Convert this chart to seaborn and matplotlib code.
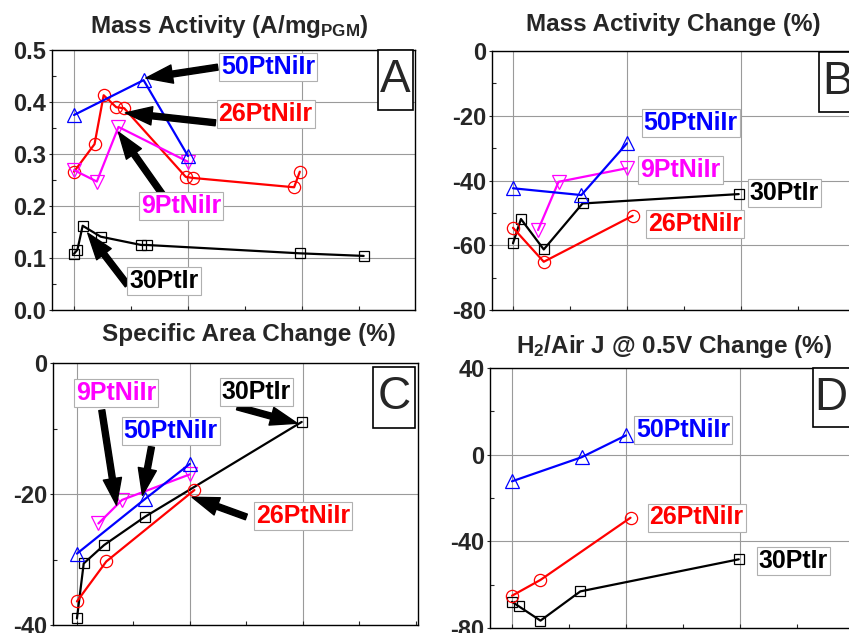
import matplotlib
matplotlib.use('Agg')
import matplotlib.pyplot as plt
from matplotlib.patches import Rectangle
from matplotlib.ticker import MultipleLocator
import seaborn as sns

sns.set_style('ticks')
plt.rcParams['font.family'] = ['Liberation Sans', 'DejaVu Sans']
plt.rcParams['mathtext.default'] = 'regular'

# panel A: mass activity (A/mg PGM)
ma_50_x = [0.0, 0.61, 1.0]
ma_50_y = [0.375, 0.442, 0.296]
ma_26_x = [0.0, 0.18, 0.26, 0.37, 0.44, 0.98, 1.04, 1.93, 1.98]
ma_26_y = [0.266, 0.319, 0.413, 0.390, 0.388, 0.256, 0.254, 0.236, 0.266]
ma_9_x = [0.0, 0.2, 0.39, 1.0]
ma_9_y = [0.269, 0.247, 0.352, 0.285]
ma_30_x = [0.0, 0.03, 0.076, 0.234, 0.59, 0.64, 1.98, 2.54]
ma_30_y = [0.108, 0.116, 0.162, 0.141, 0.125, 0.125, 0.109, 0.104]

# panel B: mass activity change (%)
mc_50_x = [0.0, 0.60, 1.0]
mc_50_y = [-42.4, -44.5, -28.5]
mc_26_x = [0.0, 0.27, 1.05]
mc_26_y = [-54.6, -65.1, -50.9]
mc_9_x = [0.22, 0.40, 1.0]
mc_9_y = [-55.3, -40.4, -36.2]
mc_30_x = [0.0, 0.07, 0.27, 0.61, 1.98]
mc_30_y = [-59.4, -51.9, -61.3, -47.1, -44.2]

# panel C: specific area change (%)
sa_50_x = [0.0, 0.60, 1.0]
sa_50_y = [-29.1, -20.8, -15.4]
sa_26_x = [0.0, 0.26, 1.04]
sa_26_y = [-36.4, -30.3, -19.4]
sa_9_x = [0.19, 0.40, 1.0]
sa_9_y = [-24.5, -20.9, -17.0]
sa_30_x = [0.0, 0.06, 0.24, 0.60, 1.99]
sa_30_y = [-39.0, -30.6, -27.8, -23.5, -9.0]

# panel D: H2/Air J @ 0.5V change (%)
hj_50_x = [0.0, 0.61, 1.0]
hj_50_y = [-12.3, -1.2, 8.9]
hj_26_x = [0.0, 0.25, 1.04]
hj_26_y = [-65.1, -57.8, -29.1]
hj_30_x = [0.0, 0.06, 0.25, 0.60, 1.99]
hj_30_y = [-67.9, -70.0, -76.6, -63.1, -48.3]

colors = {'50PtNiIr': '#0000ff', '26PtNiIr': '#ff0000', '9PtNiIr': '#ff00ff', '30PtIr': '#000000'}
markers = {'50PtNiIr': '^', '26PtNiIr': 'o', '9PtNiIr': 'v', '30PtIr': 's'}
msize = {'50PtNiIr': 10.5, '26PtNiIr': 8.8, '9PtNiIr': 10.5, '30PtIr': 7.5}

W, H = 849, 633
fig = plt.figure(figsize=(W / 100, H / 100), dpi=100)


def px_axes(l, r, t, b):
    return fig.add_axes([l / W, 1 - b / H, (r - l) / W, (b - t) / H])


def draw(ax, series):
    for name, xs, ys in series:
        c = colors[name]
        sns.lineplot(x=xs, y=ys, ax=ax, color=c, marker=markers[name],
                     markersize=msize[name], markerfacecolor='none',
                     markeredgecolor=c, markeredgewidth=0.9, linewidth=1.6,
                     sort=False, estimator=None)


def style(ax, xlim, ylim, ymaj, ymin, fmt):
    ax.set_xlim(*xlim)
    ax.set_ylim(*ylim)
    ax.set_xticks([0, 1, 2])
    ax.xaxis.set_minor_locator(MultipleLocator(0.5))
    ax.set_xticklabels([])
    ax.yaxis.set_major_locator(MultipleLocator(ymaj))
    ax.yaxis.set_minor_locator(MultipleLocator(ymin))
    ax.set_yticklabels([fmt(v) for v in ax.get_yticks()])
    ax.set_ylim(*ylim)
    ax.grid(True, which='major', color='#9a9a9a', lw=0.8)
    ax.tick_params(axis='y', which='major', direction='out', length=2.5, width=0.8,
                   pad=1.5, labelsize=17)
    ax.tick_params(axis='both', which='minor', direction='in', length=3, width=0.8)
    ax.tick_params(axis='x', which='major', direction='in', length=3, width=0.8)
    for lab in ax.get_yticklabels():
        lab.set_fontweight('bold')
    for s in ax.spines.values():
        s.set_color('black')
        s.set_linewidth(1.0)
    ax.set_xlabel('')
    ax.set_ylabel('')


def label(ax, x, y, text):
    ax.text(x, y, text, color=colors[text], fontsize=18, fontweight='bold',
            ha='center', va='center', zorder=6,
            bbox=dict(boxstyle='square,pad=0.08', fc='white', ec='#b0b0b0', lw=0.8))


def arrow(ax, tail, tip):
    ax.annotate('', xy=tip, xytext=tail, zorder=5,
                arrowprops=dict(arrowstyle='simple,head_length=1.6,head_width=1.1,tail_width=0.36',
                                mutation_scale=12, color='black', shrinkA=0, shrinkB=0))


def letter(ax, x0, y0, w, h, text):
    ax.add_patch(Rectangle((x0, y0), w, h, transform=ax.transAxes, fill=True,
                           fc='white', ec='black', lw=1.2, zorder=6, clip_on=False))
    ax.text(x0 + w / 2, y0 + h / 2, text, transform=ax.transAxes, fontsize=33,
            ha='center', va='center', zorder=7)


f1 = lambda v: '%.1f' % v
f0 = lambda v: '%d' % round(v)

# A
axA = px_axes(52, 415, 50, 310)
draw(axA, [('30PtIr', ma_30_x, ma_30_y), ('26PtNiIr', ma_26_x, ma_26_y),
           ('9PtNiIr', ma_9_x, ma_9_y), ('50PtNiIr', ma_50_x, ma_50_y)])
style(axA, (-0.193, 2.99), (0, 0.5), 0.1, 0.05, f1)
arrow(axA, (1.26, 0.467), (0.63, 0.446))
arrow(axA, (1.24, 0.36), (0.45, 0.379))
arrow(axA, (0.78, 0.221), (0.39, 0.342))
arrow(axA, (0.47, 0.048), (0.12, 0.148))
label(axA, 1.70, 0.468, '50PtNiIr')
label(axA, 1.68, 0.377, '26PtNiIr')
label(axA, 0.94, 0.200, '9PtNiIr')
label(axA, 0.79, 0.056, '30PtIr')
letter(axA, 0.898, 0.769, 0.096, 0.231, 'A')

# B
axB = px_axes(492, 855, 51, 310)
draw(axB, [('30PtIr', mc_30_x, mc_30_y), ('26PtNiIr', mc_26_x, mc_26_y),
           ('9PtNiIr', mc_9_x, mc_9_y), ('50PtNiIr', mc_50_x, mc_50_y)])
style(axB, (-0.184, 3.0), (-80, 0), 20, 10, f0)
label(axB, 1.56, -22.2, '50PtNiIr')
label(axB, 1.47, -36.8, '9PtNiIr')
label(axB, 2.38, -43.9, '30PtIr')
label(axB, 1.60, -53.4, '26PtNiIr')
letter(axB, 0.901, 0.764, 0.10, 0.232, 'B')

# C
axC = px_axes(53, 418, 363, 625)
draw(axC, [('30PtIr', sa_30_x, sa_30_y), ('26PtNiIr', sa_26_x, sa_26_y),
           ('9PtNiIr', sa_9_x, sa_9_y), ('50PtNiIr', sa_50_x, sa_50_y)])
style(axC, (-0.212, 3.02), (-40, 0), 20, 10, f0)
arrow(axC, (0.22, -7.2), (0.35, -21.7))
arrow(axC, (0.66, -12.8), (0.58, -20.2))
arrow(axC, (1.42, -6.7), (1.95, -9.2))
arrow(axC, (1.50, -23.5), (1.02, -20.5))
label(axC, 0.345, -4.6, '9PtNiIr')
label(axC, 0.83, -10.4, '50PtNiIr')
label(axC, 1.59, -4.4, '30PtIr')
label(axC, 2.00, -23.4, '26PtNiIr')
letter(axC, 0.877, 0.752, 0.115, 0.233, 'C')

# D
axD = px_axes(490, 855, 368, 628)
draw(axD, [('30PtIr', hj_30_x, hj_30_y), ('26PtNiIr', hj_26_x, hj_26_y),
           ('50PtNiIr', hj_50_x, hj_50_y)])
style(axD, (-0.193, 3.01), (-80, 40), 40, 20, f0)
label(axD, 1.50, 11.5, '50PtNiIr')
label(axD, 1.62, -29.0, '26PtNiIr')
label(axD, 2.47, -49.2, '30PtIr')
letter(axD, 0.885, 0.773, 0.10, 0.227, 'D')

# titles
tkw = dict(fontsize=17.5, fontweight='bold', ha='center', va='center')
fig.text(229 / W, 1 - 26 / H, 'Mass Activity (A/mg$_{PGM}$)', **tkw)
fig.text(673 / W, 1 - 25 / H, 'Mass Activity Change (%)', **tkw)
fig.text(249 / W, 1 - 334 / H, 'Specific Area Change (%)', **tkw)
fig.text(674 / W, 1 - 346 / H, 'H$_2$/Air J @ 0.5V Change (%)', **tkw)

fig.savefig('out.png', dpi=100)
